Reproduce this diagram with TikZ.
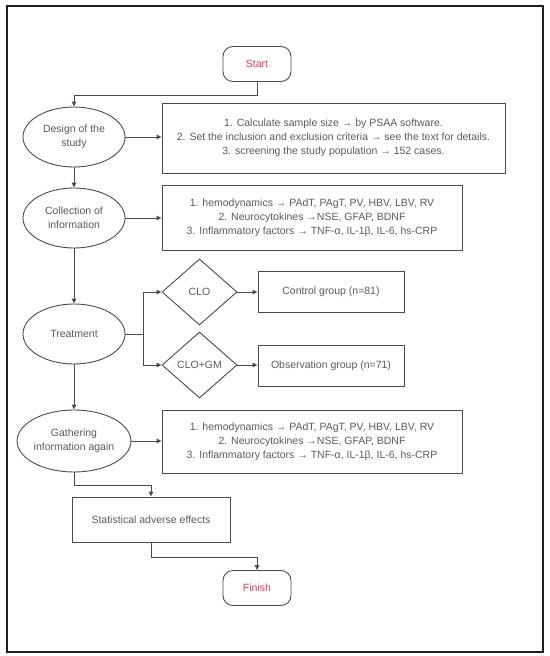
\documentclass[tikz,border=0pt]{standalone}
\usepackage{fontspec}
\setmainfont{Liberation Sans}
\usepackage{tikz}
\usetikzlibrary{positioning,arrows.meta,shapes.geometric,calc}
\definecolor{cline}{RGB}{75,75,75}
\definecolor{ctext}{RGB}{90,90,90}
\definecolor{cred}{RGB}{230,55,75}
\definecolor{cframe}{RGB}{30,30,30}

\begin{document}
\begin{tikzpicture}[
  x=1pt, y=-1pt,
  font=\fontsize{10.5}{14}\selectfont,
  every node/.style={text=ctext},
  term/.style={draw=cline, line width=0.9pt, rounded corners=10pt, minimum width=68pt, minimum height=35pt, text=cred},
  oval/.style={ellipse, draw=cline, line width=0.9pt, minimum width=102pt, minimum height=60pt, inner sep=0pt, align=center},
  infobox/.style={draw=cline, line width=0.9pt, align=center, inner sep=0pt},
  choice/.style={diamond, draw=cline, line width=0.9pt, minimum width=75pt, minimum height=66pt, inner sep=0pt},
  arr/.style={draw=cline, line width=0.9pt, -{Triangle[length=5pt,width=4.5pt]}}
]
\useasboundingbox (0,0) rectangle (549,656);

% FRAME
\draw[cframe, line width=1.2pt] (7,6) rectangle (543,652);

% START
\node[term] (start) at (257,64) {Start};

% DESIGN
\node[oval] (design) at (74,137) {Design of the\\study};
\node[infobox, minimum width=343pt, minimum height=70pt] (plan) at (333.5,138)
  {1. Calculate sample size → by PSAA software.\\
   2. Set the inclusion and exclusion criteria → see the text for details.\\
   3. screening the study population → 152 cases.};

% COLLECTION
\node[oval] (collect) at (74,218) {Collection of\\information};
\node[infobox, minimum width=300pt, minimum height=65pt] (index1) at (312,217.5)
  {1. hemodynamics → PAdT, PAgT, PV, HBV, LBV, RV\\
   2. Neurocytokines →NSE, GFAP, BDNF\\
   3. Inflammatory factors → TNF-α, IL-1β, IL-6, hs-CRP};

% TREATMENT
\node[oval] (treat) at (74,334) {Treatment};
\node[choice] (clo) at (199.5,292) {CLO};
\node[choice] (clogm) at (199.5,365) {CLO+GM};
\node[infobox, minimum width=146pt, minimum height=41pt] (ctrl) at (331,291.5) {Control group (n=81)};
\node[infobox, minimum width=146pt, minimum height=41pt] (obs) at (331,365.5) {Observation group (n=71)};

% GATHERING
\node[oval, minimum width=106pt, minimum height=62pt] (gather) at (74,441) {Gathering\\information again};
\node[infobox, minimum width=300pt, minimum height=63pt] (index2) at (312,441.5)
  {1. hemodynamics → PAdT, PAgT, PV, HBV, LBV, RV\\
   2. Neurocytokines →NSE, GFAP, BDNF\\
   3. Inflammatory factors → TNF-α, IL-1β, IL-6, hs-CRP};

% STATISTICS AND FINISH
\node[infobox, minimum width=158pt, minimum height=45pt] (stat) at (151,519.5) {Statistical adverse effects};
\node[term] (finish) at (257,588) {Finish};

% CONNECTORS
\draw[arr] (start.south) -- ++(0,13) -| (design.north);
\draw[arr] (design.east) -- (design.east -| plan.west);
\draw[arr] (design.south) -- (collect.north);
\draw[arr] (collect.east) -- (collect.east -| index1.west);
\draw[arr] (collect.south) -- (treat.north);
\coordinate (split) at ($(treat.east)+(18,0)$);
\draw[draw=cline, line width=0.9pt] (treat.east) -- (split);
\draw[arr] (split) |- (clo.west);
\draw[arr] (split) |- (clogm.west);
\draw[arr] (clo.east) -- (clo.east -| ctrl.west);
\draw[arr] (clogm.east) -- (clogm.east -| obs.west);
\draw[arr] (treat.south) -- (gather.north);
\draw[arr] (gather.east) -- (gather.east -| index2.west);
\draw[arr] (gather.south) -- ++(0,13) -| (stat.north);
\draw[arr] (stat.south) -- ++(0,15) -| (finish.north);

\end{tikzpicture}
\end{document}
